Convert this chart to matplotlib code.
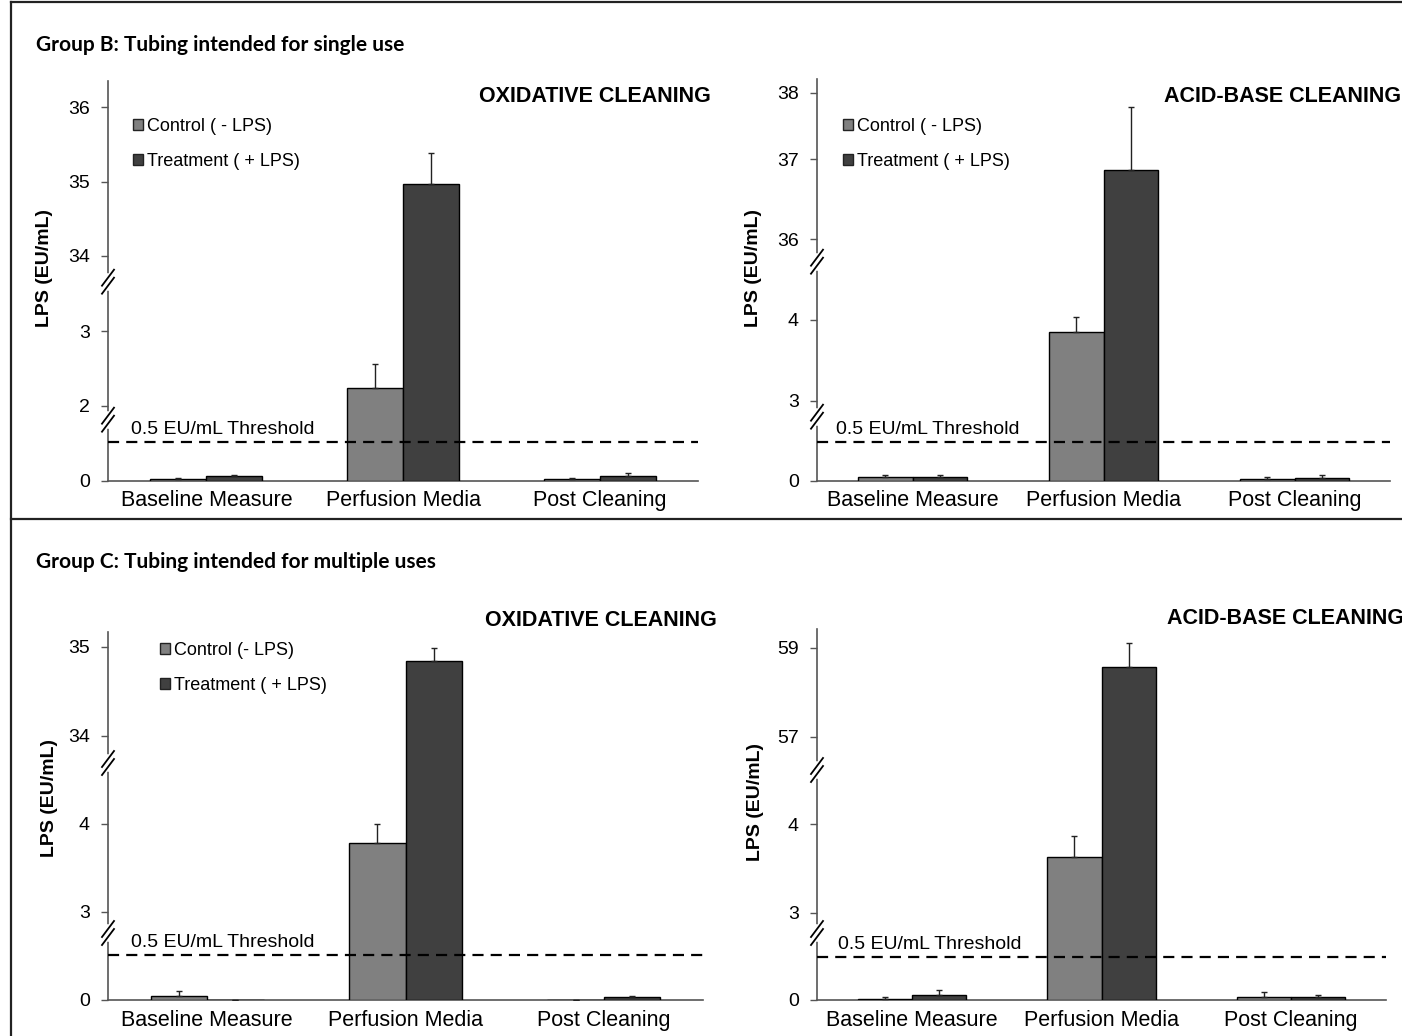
import matplotlib
matplotlib.use("Agg")
import matplotlib.pyplot as plt
import numpy as np
from matplotlib.lines import Line2D
from matplotlib.patches import Patch

plt.rcParams['font.family'] = ['Liberation Sans', 'DejaVu Sans']

W, H = 1402, 1036

categories = ["Baseline Measure", "Perfusion Media", "Post Cleaning"]
threshold = 0.5

# Group B, oxidative cleaning
b_ox_ticks = [0, 2, 3, 34, 35, 36]
b_ox_control = [0.02, 2.24, 0.025]
b_ox_control_err = [0.015, 0.32, 0.01]
b_ox_treat = [0.06, 34.97, 0.065]
b_ox_treat_err = [0.02, 0.41, 0.035]

# Group B, acid-base cleaning
b_ab_ticks = [0, 3, 4, 36, 37, 38]
b_ab_control = [0.045, 3.855, 0.025]
b_ab_control_err = [0.025, 0.18, 0.02]
b_ab_treat = [0.045, 36.87, 0.04]
b_ab_treat_err = [0.025, 0.91, 0.03]

# Group C, oxidative cleaning
c_ox_ticks = [0, 3, 4, 34, 35]
c_ox_control = [0.045, 3.78, 0.0]
c_ox_control_err = [0.05, 0.22, 0.0]
c_ox_treat = [0.0, 34.84, 0.03]
c_ox_treat_err = [0.0, 0.15, 0.015]

# Group C, acid-base cleaning
c_ab_ticks = [0, 3, 4, 57, 59]
c_ab_control = [0.012, 3.63, 0.04]
c_ab_control_err = [0.02, 0.24, 0.05]
c_ab_treat = [0.06, 58.57, 0.03]
c_ab_treat_err = [0.06, 0.54, 0.025]


def px2fig(x, y):
    return x / W, 1 - y / H


def build_knots(ticks, tick_px, thr_px, breaks_px, top_px):
    # each continuous piece of the broken axis is linear; pieces join at the breaks
    runs = [([0, threshold], [0, thr_px])]
    edges = [0] + breaks_px + [top_px + 1]
    for lo, hi in zip(edges[1:-1], edges[2:]):
        vals = [v for v, p in zip(ticks, tick_px) if lo < p < hi]
        pxs = [p for p in tick_px if lo < p < hi]
        runs.append((vals, pxs))
    kv, kp = [], []
    for i, (vals, pxs) in enumerate(runs):
        vals, pxs = list(vals), list(pxs)
        if i > 0:
            b = breaks_px[i - 1] + 0.01
            s = (vals[1] - vals[0]) / (pxs[1] - pxs[0])
            vals.insert(0, vals[0] - (pxs[0] - b) * s)
            pxs.insert(0, b)
        end = breaks_px[i] if i < len(breaks_px) else top_px
        s = (vals[-1] - vals[-2]) / (pxs[-1] - pxs[-2])
        vals.append(vals[-1] + (end - pxs[-1]) * s)
        pxs.append(end)
        kv += vals
        kp += pxs
    return np.array(kv), np.array(kp)


panels = [
    dict(ticks=b_ox_ticks, control=b_ox_control, control_err=b_ox_control_err,
         treat=b_ox_treat, treat_err=b_ox_treat_err,
         box=(108, 81, 698, 480.7), tick_px=[0, 75, 149.7, 224.7, 299, 373.4],
         thr_px=38.5, breaks=[61, 199], title="OXIDATIVE CLEANING",
         title_xy=(711, 97), ylab_xy=(45, 268), thr_x=131,
         legend=("Control ( - LPS)", "Treatment ( + LPS)"), leg_xy=(133, 118)),
    dict(ticks=b_ab_ticks, control=b_ab_control, control_err=b_ab_control_err,
         treat=b_ab_treat, treat_err=b_ab_treat_err,
         box=(817, 79, 1390, 480.7), tick_px=[0, 80, 160.7, 241.4, 321.4, 388],
         thr_px=39, breaks=[64, 219], title="ACID-BASE CLEANING",
         title_xy=(1401, 96), ylab_xy=(753, 268), thr_x=836,
         legend=("Control ( - LPS)", "Treatment ( + LPS)"), leg_xy=(843, 118)),
    dict(ticks=c_ox_ticks, control=c_ox_control, control_err=c_ox_control_err,
         treat=c_ox_treat, treat_err=c_ox_treat_err,
         box=(108, 631.7, 703, 1000), tick_px=[0, 88.3, 176, 264, 353.3],
         thr_px=45, breaks=[67, 237], title="OXIDATIVE CLEANING",
         title_xy=(717, 620), ylab_xy=(50, 798), thr_x=131,
         legend=("Control (- LPS)", "Treatment ( + LPS)"), leg_xy=(160, 642)),
    dict(ticks=c_ab_ticks, control=c_ab_control, control_err=c_ab_control_err,
         treat=c_ab_treat, treat_err=c_ab_treat_err,
         box=(817, 629.3, 1386, 1000), tick_px=[0, 87.3, 175.7, 263.3, 352.3],
         thr_px=42.7, breaks=[67, 230], title="ACID-BASE CLEANING",
         title_xy=(1404, 619), ylab_xy=(756, 802), thr_x=838,
         legend=None, leg_xy=None),
]

fig = plt.figure(figsize=(W / 100, H / 100), dpi=100)

axis_col = '#555555'
for p in panels:
    x0, y0, x1, y1 = p['box']
    fx0, fy1 = px2fig(x0, y1)
    fx1, fy0 = px2fig(x1, y0)
    ax = fig.add_axes([fx0, fy1, fx1 - fx0, fy0 - fy1])
    top_px = y1 - y0
    kv, kp = build_knots(p['ticks'], p['tick_px'], p['thr_px'], p['breaks'], top_px)
    ax.set_yscale('function',
                  functions=(lambda v, kv=kv, kp=kp: np.interp(v, kv, kp),
                             lambda q, kv=kv, kp=kp: np.interp(q, kp, kv)))
    ax.set_ylim(0, kv[-1])
    ax.set_xlim(0, 3)

    x = np.arange(3) + 0.5
    w = 0.285
    zeros = np.zeros(3)
    ax.bar(x - w / 2, p['control'], w, color='#808080', edgecolor='black',
           linewidth=1, yerr=[zeros, p['control_err']], capsize=2.5,
           error_kw=dict(ecolor='#222222', elinewidth=1, capthick=1), zorder=3)
    ax.bar(x + w / 2, p['treat'], w, color='#404040', edgecolor='black',
           linewidth=1, yerr=[zeros, p['treat_err']], capsize=2.5,
           error_kw=dict(ecolor='#222222', elinewidth=1, capthick=1), zorder=3)

    ax.axhline(threshold, color='black', lw=1.6, ls=(0, (5, 3.2)), zorder=4)
    ax.annotate("0.5 EU/mL Threshold", xy=((p['thr_x'] - x0) / (x1 - x0), threshold),
                xycoords=('axes fraction', 'data'), xytext=(0, 3),
                textcoords='offset points', va='bottom', ha='left', fontsize=14)

    ax.set_yticks(p['ticks'])
    ax.set_yticklabels([str(t) for t in p['ticks']])
    ax.yaxis.set_minor_locator(matplotlib.ticker.NullLocator())
    ax.set_xticks(x)
    ax.set_xticklabels(categories)
    ax.tick_params(axis='y', length=5, width=1, color=axis_col, pad=8, labelsize=14)
    ax.tick_params(axis='x', length=0, pad=7, labelsize=15.5)
    for s in ['top', 'right']:
        ax.spines[s].set_visible(False)
    for s in ['left', 'bottom']:
        ax.spines[s].set_color(axis_col)
        ax.spines[s].set_linewidth(1.2)

    ax.text((p['ylab_xy'][0] - x0) / (x1 - x0), (y1 - p['ylab_xy'][1]) / (y1 - y0),
            "LPS (EU/mL)", rotation=90, ha='center', va='center', fontsize=14,
            fontweight='bold', transform=ax.transAxes)
    tx, ty = px2fig(*p['title_xy'])
    fig.text(tx, ty, p['title'], ha='right', va='center', fontsize=15.5,
             fontweight='bold')

    if p['legend']:
        lx, ly = p['leg_xy']
        ax.legend([Patch(facecolor='#808080', edgecolor='#222222'),
                   Patch(facecolor='#404040', edgecolor='#222222')],
                  p['legend'], loc='upper left',
                  bbox_to_anchor=((lx - x0) / (x1 - x0), (y1 - ly) / (y1 - y0)),
                  frameon=False, fontsize=13, handlelength=0.55, handleheight=0.55,
                  handletextpad=0.2, labelspacing=1.0, borderpad=0, borderaxespad=0)

    # break marks on the y axis
    for b in p['breaks']:
        by = y1 - b
        gx0, gy0 = px2fig(x0, by - 6)
        gx1, gy1 = px2fig(x0, by + 6)
        fig.add_artist(Line2D([gx0, gx1], [gy0, gy1], color='white', lw=4))
        for dy in (-4, 4):
            ax_, ay_ = px2fig(x0 - 6, by + dy + 8)
            bx_, by_ = px2fig(x0 + 6, by + dy - 8)
            fig.add_artist(Line2D([ax_, bx_], [ay_, by_], color='black', lw=1.3))

# group headings
fig.text(*px2fig(36, 45), "Group B: Tubing intended for single use", ha='left',
         va='center', fontsize=15, fontweight='bold', family='Lato')
fig.text(*px2fig(36, 562), "Group C: Tubing intended for multiple uses", ha='left',
         va='center', fontsize=15, fontweight='bold', family='Lato')

# outer frame and divider
for (xa, ya, xb, yb) in [(11, 2, W, 2), (11, 2, 11, H), (11, 519, W, 519)]:
    pa, pb = px2fig(xa, ya), px2fig(xb, yb)
    fig.add_artist(Line2D([pa[0], pb[0]], [pa[1], pb[1]], color='#222222', lw=1.6))

fig.savefig("out.png", dpi=100)
